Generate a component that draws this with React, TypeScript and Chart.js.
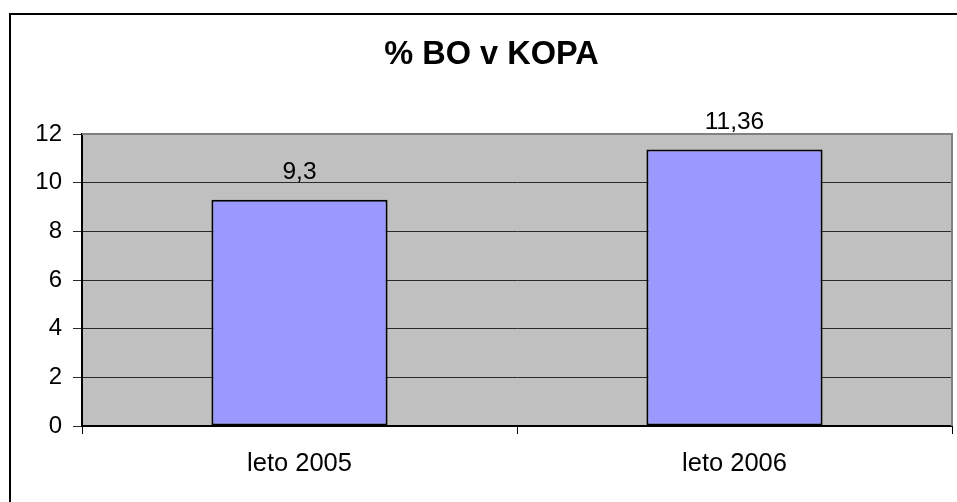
import React, { useEffect, useRef } from "react";
import { Chart, registerables } from "chart.js";

Chart.register(...registerables);

const categories = ["leto 2005", "leto 2006"];
const values = [9.3, 11.36];
const valueLabels = ["9,3", "11,36"];
const titleText = "% BO v KOPA";
const yMin = 0;
const yMax = 12;
const yStep = 2;

const FONT = "'Liberation Sans', Arial, sans-serif";

const framePlugin = {
  id: "frame",
  beforeDraw(chart: any) {
    const ctx = chart.ctx;
    const a = chart.chartArea;
    ctx.save();
    ctx.strokeStyle = "#000";
    ctx.lineWidth = 2;
    ctx.strokeRect(10, 14, 1200, 1200);
    ctx.fillStyle = "#C0C0C0";
    ctx.fillRect(a.left, a.top, a.right - a.left, a.bottom - a.top);
    ctx.fillStyle = "#000";
    ctx.font = `bold 32.5px ${FONT}`;
    ctx.textAlign = "center";
    ctx.textBaseline = "alphabetic";
    ctx.fillText(titleText, 491.5, 64);
    ctx.restore();
  },
  afterDatasetsDraw(chart: any) {
    const ctx = chart.ctx;
    const a = chart.chartArea;
    ctx.save();
    ctx.strokeStyle = "#808080";
    ctx.lineWidth = 2;
    ctx.beginPath();
    ctx.moveTo(a.left, a.top);
    ctx.lineTo(a.right, a.top);
    ctx.lineTo(a.right, a.bottom);
    ctx.stroke();
    const meta = chart.getDatasetMeta(0);
    ctx.fillStyle = "#000";
    ctx.font = `24.5px ${FONT}`;
    ctx.textAlign = "center";
    ctx.textBaseline = "alphabetic";
    meta.data.forEach((bar: any, i: number) => {
      ctx.fillText(valueLabels[i], bar.x, bar.y - 20.5);
    });
    ctx.restore();
  },
};

export default function App() {
  const ref = useRef<HTMLCanvasElement | null>(null);
  useEffect(() => {
    if (!ref.current) return;
    const chart = new Chart(ref.current, {
      type: "bar",
      data: {
        labels: categories,
        datasets: [
          {
            data: values,
            backgroundColor: "#9999FF",
            borderColor: "#000",
            borderWidth: 2,
            borderSkipped: false,
            barPercentage: 0.405,
            categoryPercentage: 1,
          },
        ],
      },
      options: {
        animation: false,
        responsive: false,
        devicePixelRatio: 1,
        layout: { padding: { left: 0, top: 134, right: 5, bottom: 0 } },
        plugins: {
          legend: { display: false },
          title: { display: false },
          tooltip: { enabled: false },
        },
        scales: {
          x: {
            afterFit(scale: any) {
              scale.height = 76;
            },
            grid: {
              offset: true,
              drawOnChartArea: false,
              drawTicks: true,
              tickLength: 8,
              color: "#000",
            },
            border: { color: "#000", width: 2 },
            ticks: {
              color: "#000",
              font: { family: FONT, size: 25.5 },
              padding: 15,
            },
          },
          y: {
            min: yMin,
            max: yMax,
            afterFit(scale: any) {
              scale.width = 82;
            },
            grid: {
              color: "#2a2a2a",
              lineWidth: 1,
              tickLength: 9,
            },
            border: { color: "#000", width: 2 },
            ticks: {
              stepSize: yStep,
              color: "#000",
              font: { family: FONT, size: 24 },
              padding: 11,
            },
          },
        },
      },
      plugins: [framePlugin],
    });
    return () => chart.destroy();
  }, []);
  return (
    <div style={{ position: "absolute", left: 0, top: 0, width: 957, height: 502, background: "#fff" }}>
      <canvas ref={ref} width={957} height={502} style={{ display: "block" }} />
    </div>
  );
}
